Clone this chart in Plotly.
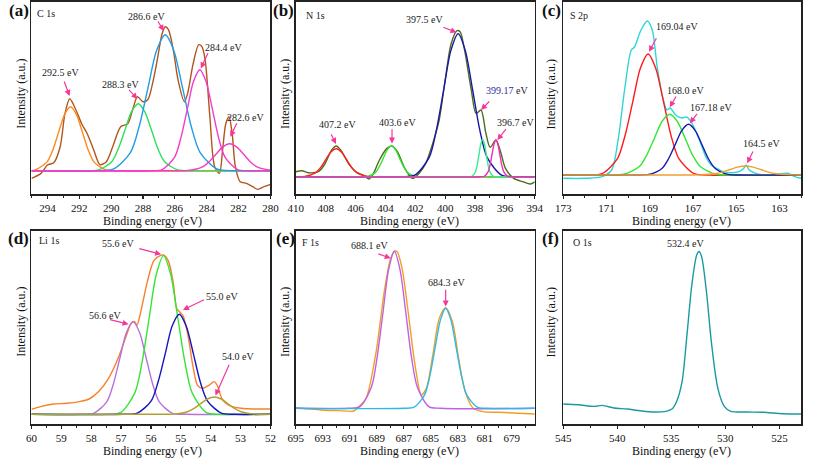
import plotly.graph_objects as go

# ---------------- (a) C 1s ----------------
C1S_EXP_E = [295, 294.4, 294.0, 293.6, 293.2, 292.9, 292.6, 292.3, 291.85, 291.5, 291.1, 290.7, 290.3, 289.9,
             289.4, 288.96, 288.65, 288.35, 288.0, 287.7, 287.4, 287.1, 286.8, 286.6, 286.4, 286.1, 285.8, 285.4,
             285.2, 284.85, 284.5, 284.3, 284.1, 283.8, 283.5, 283.2, 283.0, 282.8, 282.6, 282.4, 282.2, 281.9,
             281.5, 281.1, 280.8, 280.4, 280.0]
C1S_EXP_I = [-7.7, -2.7, 5.7, 8, 24, 57, 72, 64, 47, 37, 21, 6, 9, 24, 44, 47, 61, 74, 69, 71, 87, 111, 137, 144,
             141, 121, 91, 69, 77, 107, 126, 124, 111, 54, 4, -2.7, 21, 47, 54, 37, 4, -11, -12.7, -16, -18.7, -16, -13.7]
C1S_P1_E = [295, 294.77, 294.03, 293.66, 293.29, 292.92, 292.55, 292.18, 291.81, 291.44, 291.07, 290.33, 289.6, 280]
C1S_P1_I = [0, 0.7, 8.6, 20.8, 38.8, 56.4, 64, 56.4, 38.8, 20.8, 8.6, 0.7, 0, 0]
C1S_P2_E = [295, 291.62, 290.79, 289.96, 289.55, 289.13, 288.72, 288.3, 287.89, 287.47, 287.06, 286.64, 285.81, 284.98, 280]
C1S_P2_I = [0, 0, 0.7, 9.0, 21.8, 40.7, 59.1, 67, 59.1, 40.7, 21.8, 9.0, 0.7, 0, 0]
C1S_P3_E = [295, 290.96, 289.87, 288.78, 288.24, 287.69, 287.15, 286.6, 286.06, 285.51, 284.97, 284.42, 283.33, 282.24, 280]
C1S_P3_I = [0, 0, 1.5, 18.4, 44.2, 82.6, 120, 136, 120, 82.6, 44.2, 18.4, 1.5, 0, 0]
C1S_P4_E = [295, 287.59, 286.8, 286.01, 285.62, 285.22, 284.83, 284.43, 284.04, 283.64, 283.25, 282.85, 282.06, 281.27, 280]
C1S_P4_I = [0, 0, 1.1, 13.6, 32.8, 61.3, 89.1, 101, 89.1, 61.3, 32.8, 13.6, 1.1, 0, 0]
C1S_P5_E = [295, 286.03, 285.16, 284.29, 283.86, 283.42, 282.99, 282.55, 282.12, 281.68, 281.25, 280.81, 280]
C1S_P5_I = [0, 0, 0.3, 3.6, 8.8, 16.4, 23.8, 27, 23.8, 16.4, 8.8, 3.6, 0.4]

# ---------------- (b) N 1s ----------------
N1S_EXP_E = [410, 409.6, 409.17, 408.5, 408.1, 407.6, 407.3, 407.0, 406.4, 405.9, 405.5, 405.1, 404.8, 404.4, 403.9,
             403.56, 403.2, 402.7, 402.2, 401.75, 401.3, 400.9, 400.4, 400.0, 399.6, 399.2, 399.0, 398.7, 398.25,
             397.93, 397.6, 397.27, 396.99, 396.6, 396.29, 395.96, 395.4, 394.8, 394.3, 394.0]
N1S_EXP_I = [5, 6, 4, 5, 11.7, 26.7, 30.7, 26.7, 11.7, 4, 1.7, -2.3, 3.3, 16.7, 28.3, 30.7, 25, 8.3, -1.7, 3.3, 13.3,
             30, 56.7, 96.7, 133, 146, 145, 126.7, 86.7, 63.3, 66.7, 43.3, 29.3, 36.7, 25, 8.3, -1.7, -5, -7.3, -5]
N1S_P1_E = [410, 409.4, 408.7, 408.35, 408.0, 407.65, 407.3, 406.95, 406.6, 406.25, 405.9, 405.2, 404.5, 394]
N1S_P1_I = [0, 0.3, 3.8, 9.1, 17.0, 24.7, 28, 24.7, 17.0, 9.1, 3.8, 0.3, 0, 0]
N1S_P2_E = [410, 405.76, 405.22, 404.68, 404.41, 404.14, 403.87, 403.6, 403.33, 403.06, 402.79, 402.52, 401.98, 401.44, 394]
N1S_P2_I = [0, 0, 0.3, 4.1, 10.0, 18.6, 27.1, 30.7, 27.1, 18.6, 10.0, 4.1, 0.3, 0, 0]
N1S_P3_E = [410, 403.01, 402.04, 401.07, 400.59, 400.1, 399.62, 399.13, 398.65, 398.16, 397.68, 397.19, 396.22, 395.25, 394]
N1S_P3_I = [0, 0, 1.6, 19.3, 46.5, 86.8, 126.1, 143, 126.1, 86.8, 46.5, 19.3, 1.6, 0, 0]
N1S_P4_E = [410, 398.45, 398.21, 397.97, 397.85, 397.73, 397.61, 397.49, 397.37, 397.25, 397.13, 397.01, 396.77, 396.53, 394]
N1S_P4_I = [0, 0, 0.4, 5.0, 12.1, 22.6, 32.9, 37.3, 32.9, 22.6, 12.1, 5.0, 0.4, 0, 0]
N1S_P5_E = [410, 397.64, 397.38, 397.12, 396.99, 396.86, 396.73, 396.6, 396.47, 396.34, 396.21, 396.08, 395.82, 395.56, 394]
N1S_P5_I = [0, 0, 0.4, 5.0, 11.9, 22.3, 32.4, 36.7, 32.4, 22.3, 11.9, 5.0, 0.4, 0, 0]

# ---------------- (c) S 2p ----------------
S2P_EXP_E = [173, 171.97, 171.2, 170.76, 170.46, 170.16, 169.85, 169.7, 169.4, 169.1, 168.88, 168.65, 168.4, 168.2,
             168.05, 167.8, 167.5, 167.3, 167.14, 167.0, 166.7, 166.4, 166.16, 165.9, 165.6, 165.2, 164.87, 164.65,
             164.54, 164.4, 164.1, 163.66, 163.06, 162.6, 162.3, 162.0]
S2P_EXP_I = [-3.3, -3.3, -1.7, 5, 35, 85, 125, 128, 145, 154, 145, 108, 78, 65, 67, 60, 57, 58, 55, 50, 35, 18, 10,
             6.7, 3.3, 2.3, 3.3, 6.7, 10, 5, 1.7, 0, 1, 1.7, -1.7, -3.3]
S2P_P1_E = [173, 171.91, 171.2, 170.49, 170.14, 169.78, 169.43, 169.07, 168.72, 168.36, 168.01, 167.65, 166.94, 166.23, 162]
S2P_P1_I = [0, 0, 1.3, 16.3, 39.3, 73.4, 106.7, 121, 106.7, 73.4, 39.3, 16.3, 1.3, 0, 0]
S2P_P2_E = [173, 170.91, 170.2, 169.49, 169.14, 168.78, 168.43, 168.07, 167.72, 167.36, 167.01, 166.65, 165.94, 165.23, 162]
S2P_P2_I = [0, 0, 0.7, 8.2, 19.7, 36.8, 53.5, 60.7, 53.5, 36.8, 19.7, 8.2, 0.7, 0, 0]
S2P_P3_E = [173, 169.64, 169.03, 168.42, 168.12, 167.81, 167.51, 167.2, 166.9, 166.59, 166.29, 165.98, 165.37, 164.76, 162]
S2P_P3_I = [0, 0, 0.6, 6.8, 16.5, 30.8, 44.7, 50.7, 44.7, 30.8, 16.5, 6.8, 0.6, 0, 0]
S2P_P4_E = [173, 167.41, 166.7, 165.99, 165.64, 165.28, 164.93, 164.57, 164.22, 163.86, 163.51, 163.15, 162.44, 162]
S2P_P4_I = [0, 0, 0.1, 1.2, 2.9, 5.5, 7.9, 9, 7.9, 5.5, 2.9, 1.2, 0.1, 0]

# ---------------- (d) Li 1s ----------------
LI1S_EXP_E = [60, 59.7, 59.26, 58.83, 58.4, 58.07, 57.75, 57.42, 57.1, 56.82, 56.66, 56.55, 56.47, 56.34, 56.12,
              55.9, 55.69, 55.58, 55.41, 55.25, 55.14, 55.03, 54.93, 54.76, 54.6, 54.44, 54.28, 54.06, 53.88, 53.76,
              53.63, 53.41, 52.98, 52.43, 52.0]
LI1S_EXP_I = [5, 7.7, 10.3, 11, 12.7, 15.3, 22.7, 36, 56, 79, 91, 92.7, 89, 102.7, 132.7, 154, 158.7, 159.3, 152.7,
              131, 106, 102, 99, 79, 49, 29, 26, 29, 32.7, 27.7, 16, 9.3, 6, 5.3, 5.3]
LI1S_P1_E = [60, 58.36, 57.92, 57.48, 57.26, 57.04, 56.82, 56.6, 56.38, 56.16, 55.94, 55.72, 55.28, 54.84, 52]
LI1S_P1_I = [0, 0, 1.0, 12.5, 30.1, 56.3, 81.8, 92.7, 81.8, 56.3, 30.1, 12.5, 1.0, 0, 0]
LI1S_P2_E = [60, 57.5, 57.02, 56.54, 56.3, 56.06, 55.82, 55.58, 55.34, 55.1, 54.86, 54.62, 54.14, 53.66, 52]
LI1S_P2_I = [0, 0, 1.7, 21.4, 51.6, 96.3, 140, 158.7, 140, 96.3, 51.6, 21.4, 1.7, 0, 0]
LI1S_P3_E = [60, 56.93, 56.46, 55.99, 55.76, 55.52, 55.29, 55.05, 54.82, 54.58, 54.35, 54.11, 53.64, 53.17, 52]
LI1S_P3_I = [0, 0, 1.1, 13.5, 32.5, 60.7, 88.2, 100, 88.2, 60.7, 32.5, 13.5, 1.1, 0, 0]
LI1S_P4_E = [60, 55.72, 55.26, 54.8, 54.57, 54.34, 54.11, 53.88, 53.65, 53.42, 53.19, 52.96, 52.5, 52.04, 52]
LI1S_P4_I = [0, 0, 0.2, 2.3, 5.6, 10.5, 15.3, 17.3, 15.3, 10.5, 5.6, 2.3, 0.2, 0, 0]

# ---------------- (e) F 1s ----------------
F1S_EXP_E = [695, 693.13, 691.9, 690.7, 690.4, 689.8, 689.05, 688.45, 687.97, 687.66, 687.5, 687.13, 686.65, 686.17,
             685.7, 685.33, 684.85, 684.37, 683.9, 683.4, 682.94, 682.46, 681.86, 681.14, 679.94, 678.5, 677.3]
F1S_EXP_I = [0.7, -1.7, -2.3, -2.7, 0.7, 10, 56.7, 116.7, 150, 157.3, 156.7, 140, 93.3, 43.3, 13.3, 20, 53.3, 90,
             100.7, 86.7, 50, 16.7, 0, -3.3, -4, -5, -5.7]
F1S_P1_E = [695, 691.1, 690.25, 689.4, 688.98, 688.55, 688.13, 687.7, 687.28, 686.85, 686.43, 686.0, 685.15, 684.3, 677.3]
F1S_P1_I = [0, 0, 1.7, 21.2, 51.0, 95.3, 138.5, 157, 138.5, 95.3, 51.0, 21.2, 1.7, 0, 0]
F1S_P2_E = [695, 687.02, 686.24, 685.46, 685.07, 684.68, 684.29, 683.9, 683.51, 683.12, 682.73, 682.34, 681.56, 680.78, 677.3]
F1S_P2_I = [0, 0, 1.1, 13.5, 32.5, 60.7, 88.2, 100, 88.2, 60.7, 32.5, 13.5, 1.1, 0, 0]

# ---------------- (f) O 1s ----------------
O1S_EXP_E = [545, 543.6, 542.1, 541.4, 540.3, 539.1, 537.9, 536.7, 535.5, 534.9, 534.5, 534.0, 533.55, 533.1,
             532.65, 532.44, 532.2, 531.75, 531.3, 530.7, 530.1, 529.5, 528.0, 526.5, 524.7, 523.0]
O1S_EXP_I = [20, 19.3, 17.7, 18.7, 16, 15, 13.3, 12, 12.7, 15.3, 22.7, 42.7, 89.3, 139.3, 169.3, 172.7, 167.7,
             132.7, 82.7, 36, 17.7, 12.7, 12, 11.7, 10.3, 10]

PANEL_TAGS = ["(a)", "(b)", "(c)", "(d)", "(e)", "(f)"]
PANEL_NAMES = ["C 1s", "N 1s", "S 2p", "Li 1s", "F 1s", "O 1s"]
X_TITLE = "Binding energy (eV)"
Y_TITLE = "Intensity (a.u.)"

# ---------------- layout helpers ----------------
W, H = 813, 458
FONT = "Liberation Serif"
ARROW = "#F5379A"


def pxx(x):
    return x / W


def pxy(y):
    return 1 - y / H


COLS = [(24, 268), (294, 538), (567, 810)]
ROWS = [(1.5, 194), (231, 424)]

panels = [
    dict(xr=[295, 280], yr=[-23.3, 169.2], dt=2, t0=280, mdt=1,
         traces=[(C1S_EXP_E, C1S_EXP_I, "#B0561C"), (C1S_P1_E, C1S_P1_I, "#FF8A1E"),
                 (C1S_P2_E, C1S_P2_I, "#2EE05A"), (C1S_P3_E, C1S_P3_I, "#1E9DE8"),
                 (C1S_P4_E, C1S_P4_I, "#F23CCB"), (C1S_P5_E, C1S_P5_I, "#F23CCB")],
         texts=[("292.5 eV", 293.19, 98), ("288.3 eV", 289.42, 86.7), ("286.6 eV", 287.77, 154.7),
                ("284.4 eV", 282.95, 123), ("282.6 eV", 281.55, 53.3)],
         arrows=[(292.61, 74.7, 292.98, 90.7), (288.35, 71.7, 288.96, 82.3), (286.70, 139.7, 287.11, 150.7),
                 (284.37, 102.3, 283.88, 119), (282.52, 34, 282.06, 49)]),
    dict(xr=[410, 394], yr=[-17.3, 175.2], dt=2, t0=394, mdt=1,
         traces=[(N1S_EXP_E, N1S_EXP_I, "#4F6B1E"), (N1S_P1_E, N1S_P1_I, "#FF2020"),
                 (N1S_P2_E, N1S_P2_I, "#33E633"), (N1S_P3_E, N1S_P3_I, "#1818A8"),
                 (N1S_P4_E, N1S_P4_I, "#38EE8C"), (N1S_P5_E, N1S_P5_I, "#F22CB4")],
         texts=[("407.2 eV", 407.21, 52.7), ("403.6 eV", 403.17, 54), ("397.5 eV", 401.36, 157.3),
                ("<span style='color:#2B2B9A'>399.17</span> eV", 395.85, 86), ("396.7 eV", 395.31, 54)],
         arrows=[(407.31, 32.7, 407.69, 44), (403.56, 33.3, 403.56, 49), (399.24, 144.3, 400.22, 150),
                 (397.6, 66.7, 396.95, 76.7), (396.51, 36.7, 395.85, 49)]),
    dict(xr=[173, 162], yr=[-19, 173.5], dt=2, t0=163, mdt=1,
         traces=[(S2P_EXP_E, S2P_EXP_I, "#2ED6D6"), (S2P_P1_E, S2P_P1_I, "#FF1A1A"),
                 (S2P_P2_E, S2P_P2_I, "#33E633"), (S2P_P3_E, S2P_P3_I, "#1A1AB0"),
                 (S2P_P4_E, S2P_P4_I, "#F0A030")],
         texts=[("169.04 eV", 167.74, 148.3), ("168.0 eV", 167.32, 85), ("167.18 eV", 166.16, 67.7),
                ("164.5 eV", 163.81, 31.7)],
         arrows=[(169.03, 123.3, 168.65, 138.3), (168.07, 67.7, 167.74, 80), (167.14, 51.7, 166.76, 62.7),
                 (164.49, 11.7, 164.19, 25)]),
    dict(xr=[60, 52], yr=[-9.7, 183.3], dt=1, t0=52, mdt=0.5,
         traces=[(LI1S_EXP_E, LI1S_EXP_I, "#F5822A"), (LI1S_P1_E, LI1S_P1_I, "#B870E0"),
                 (LI1S_P2_E, LI1S_P2_I, "#33E633"), (LI1S_P3_E, LI1S_P3_I, "#1414C0"),
                 (LI1S_P4_E, LI1S_P4_I, "#B0A030")],
         texts=[("56.6 eV", 57.53, 99.3), ("55.6 eV", 57.09, 171), ("55.0 eV", 53.63, 118.3),
                ("54.0 eV", 53.08, 57.7)],
         arrows=[(56.75, 90, 57.42, 95), (55.66, 160, 56.44, 166), (54.93, 104.3, 54.17, 115.3),
                 (53.84, 18.7, 53.36, 51)]),
    dict(xr=[695, 677.3], yr=[-15.7, 177.3], dt=2, t0=679, mdt=1,
         traces=[(F1S_EXP_E, F1S_EXP_I, "#F0A020"), (F1S_P1_E, F1S_P1_I, "#C060E8"),
                 (F1S_P2_E, F1S_P2_I, "#30B8E8")],
         texts=[("688.1 eV", 689.53, 163.3), ("684.3 eV", 683.82, 126)],
         arrows=[(687.97, 150, 689.0, 155), (683.9, 101.7, 683.9, 120)]),
    dict(xr=[545, 523], yr=[0, 193.3], dt=5, t0=525, mdt=2.5,
         traces=[(O1S_EXP_E, O1S_EXP_I, "#1A9AA0")],
         texts=[("532.4 eV", 533.7, 181)],
         arrows=[]),
]

TAG_POS = [(11, 10), (281, 10), (555, 10), (11, 238), (283, 238), (554, 238)]
NAME_POS = [(28, 13), (302, 15), (572, 15), (30, 241), (298, 242), (575, 242)]
YT_X = [13, 283, 555]
YT_Y = [94, 322]
XT_X = [148, 410, 688]
XT_Y = [221, 451]

fig = go.Figure()
annotations = []
layout = {}
for k, p in enumerate(panels):
    n = k + 1
    r, c = divmod(k, 3)
    xs = "" if n == 1 else str(n)
    xref, yref = "x" + xs, "y" + xs
    for (E, I, col) in p["traces"]:
        fig.add_trace(go.Scatter(x=E, y=I, mode="lines", xaxis=xref, yaxis=yref, showlegend=False,
                                 hoverinfo="skip",
                                 line=dict(color=col, width=1.4, shape="spline", smoothing=0.8)))
    layout["xaxis" + xs] = dict(
        domain=[pxx(COLS[c][0]), pxx(COLS[c][1])], range=p["xr"], anchor=yref,
        showline=True, mirror=True, linecolor="#222", linewidth=1.6,
        ticks="outside", ticklen=3, tickwidth=1.2, tickcolor="#222",
        tick0=p["t0"], dtick=p["dt"],
        minor=dict(ticks="outside", ticklen=2, tickwidth=1, tickcolor="#222", tick0=p["t0"], dtick=p["mdt"]),
        showgrid=False, zeroline=False, tickfont=dict(family=FONT, size=11, color="#111"))
    layout["yaxis" + xs] = dict(
        domain=[pxy(ROWS[r][1]), pxy(ROWS[r][0])], range=p["yr"], anchor=xref,
        showline=True, mirror=True, linecolor="#222", linewidth=1.6,
        ticks="", showticklabels=False, showgrid=False, zeroline=False)
    for (t, x, y) in p["texts"]:
        annotations.append(dict(text=t, x=x, y=y, xref=xref, yref=yref, showarrow=False,
                                font=dict(family=FONT, size=10, color="#222")))
    for (hx, hy, tx, ty) in p["arrows"]:
        annotations.append(dict(text="", x=hx, y=hy, ax=tx, ay=ty, xref=xref, yref=yref,
                                axref=xref, ayref=yref, showarrow=True, arrowhead=2, arrowsize=1,
                                arrowwidth=1.2, arrowcolor=ARROW, standoff=0, startstandoff=0))
    tx_, ty_ = TAG_POS[k]
    annotations.append(dict(text="<b>" + PANEL_TAGS[k] + "</b>", x=pxx(tx_), y=pxy(ty_), xref="paper",
                            yref="paper", showarrow=False, xanchor="center", yanchor="middle",
                            font=dict(family=FONT, size=17, color="#111")))
    nx, ny = NAME_POS[k]
    annotations.append(dict(text=PANEL_NAMES[k], x=pxx(nx), y=pxy(ny), xref="paper", yref="paper",
                            showarrow=False, xanchor="left", yanchor="middle",
                            font=dict(family=FONT, size=10, color="#222")))
    annotations.append(dict(text=Y_TITLE, x=pxx(YT_X[c]), y=pxy(YT_Y[r]), xref="paper", yref="paper",
                            showarrow=False, textangle=-90, xanchor="center", yanchor="middle",
                            font=dict(family=FONT, size=12, color="#111")))
    annotations.append(dict(text=X_TITLE, x=pxx(XT_X[c]), y=pxy(XT_Y[r]), xref="paper", yref="paper",
                            showarrow=False, xanchor="center", yanchor="middle",
                            font=dict(family=FONT, size=12, color="#111")))

fig.update_layout(width=W, height=H, margin=dict(l=0, r=0, t=0, b=0),
                  paper_bgcolor="white", plot_bgcolor="white",
                  annotations=annotations, **layout)
fig.write_html("out.html", config={"displayModeBar": False, "staticPlot": True},
               post_script="document.body.style.margin='0';")
